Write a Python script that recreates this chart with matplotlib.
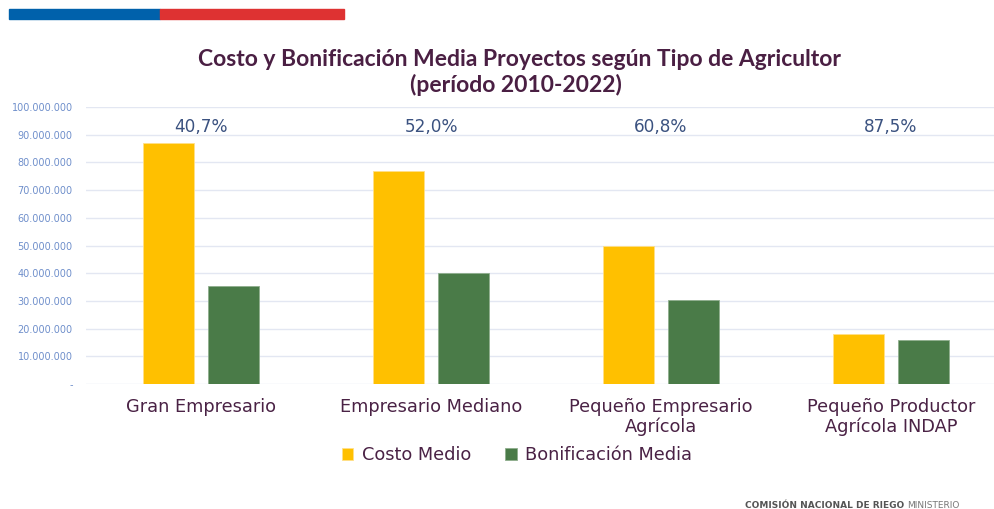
import matplotlib
matplotlib.use("Agg")
import matplotlib.pyplot as plt
import numpy as np
from matplotlib.patches import Rectangle
from matplotlib.ticker import FuncFormatter

categories = ["Gran Empresario", "Empresario Mediano", "Pequeño Empresario\nAgrícola",
              "Pequeño Productor\nAgrícola INDAP"]
costo_medio = [87_000_000, 76_900_000, 49_800_000, 18_100_000]
bonificacion_media = [35_400_000, 40_000_000, 30_300_000, 15_850_000]
pct_labels = ["40,7%", "52,0%", "60,8%", "87,5%"]
yticks = np.arange(0, 100_000_001, 10_000_000)

W, H = 995, 509
fig = plt.figure(figsize=(W / 100, H / 100), dpi=100)
fig.patch.set_facecolor("white")

# top-left institutional stripe
fig.patches.append(Rectangle((9 / W, 1 - 19 / H), 151 / W, 10 / H, transform=fig.transFigure,
                             color="#0061AB", zorder=5))
fig.patches.append(Rectangle((160 / W, 1 - 19 / H), 184 / W, 10 / H, transform=fig.transFigure,
                             color="#DE3232", zorder=5))

ax = fig.add_axes([86 / W, 1 - 384 / H, (995 - 86) / W, (384 - 107) / H])
x = np.arange(len(categories))
bw = 0.222
off = 0.141
ax.bar(x - off, costo_medio, bw, color="#FFC000", edgecolor="#FFE089", lw=0.6, label="Costo Medio", zorder=3)
ax.bar(x + off, bonificacion_media, bw, color="#4A7B48", edgecolor="#8fae8d", lw=0.6,
       label="Bonificación Media", zorder=3)

for xi, p in zip(x, pct_labels):
    ax.text(xi, 92_700_000, p, ha="center", va="center", fontsize=12.2, color="#3B5280",
            family="DejaVu Sans")

ax.set_xlim(-0.5, 3.452)
ax.set_ylim(0, 100_000_000)
ax.set_yticks(yticks)
ax.yaxis.set_major_formatter(FuncFormatter(lambda v, _: "-" if v == 0 else f"{int(v):,}".replace(",", ".")))
ax.tick_params(axis="y", length=0, pad=9.5, labelsize=7, labelcolor="#6F8FCB")
ax.set_xticks(x)
ax.set_xticklabels(categories, fontsize=12.8, color="#4A2245", linespacing=1.1)
ax.tick_params(axis="x", length=0, pad=10)
ax.grid(axis="y", color="#E3E7F2", lw=1.0, zorder=0)
for s in ax.spines.values():
    s.set_visible(False)

fig.text(519 / W, 1 - 60 / H, "Costo y Bonificación Media Proyectos según Tipo de Agricultor",
         ha="center", va="center", fontsize=16.5, fontweight="bold", color="#4A1F43", family="Lato")
fig.text(516 / W, 1 - 85 / H, "(período 2010-2022)", ha="center", va="center", fontsize=16.5,
         fontweight="bold", color="#4A1F43", family="Lato")

leg = fig.legend(loc="center", bbox_to_anchor=(517 / W, 1 - 455 / H), ncol=2, frameon=False,
                 fontsize=12.8, handlelength=0.65, handleheight=0.65, handletextpad=0.5, columnspacing=1.9)
for t in leg.get_texts():
    t.set_color("#4A2245")

fig.text(745 / W, 1 - 505 / H, "COMISIÓN NACIONAL DE RIEGO", ha="left", va="center", fontsize=6.5,
         fontweight="bold", color="#555555")
fig.text(907 / W, 1 - 505 / H, "MINISTERIO", ha="left", va="center", fontsize=6.5, color="#777777")

fig.savefig("out.png", dpi=100)
